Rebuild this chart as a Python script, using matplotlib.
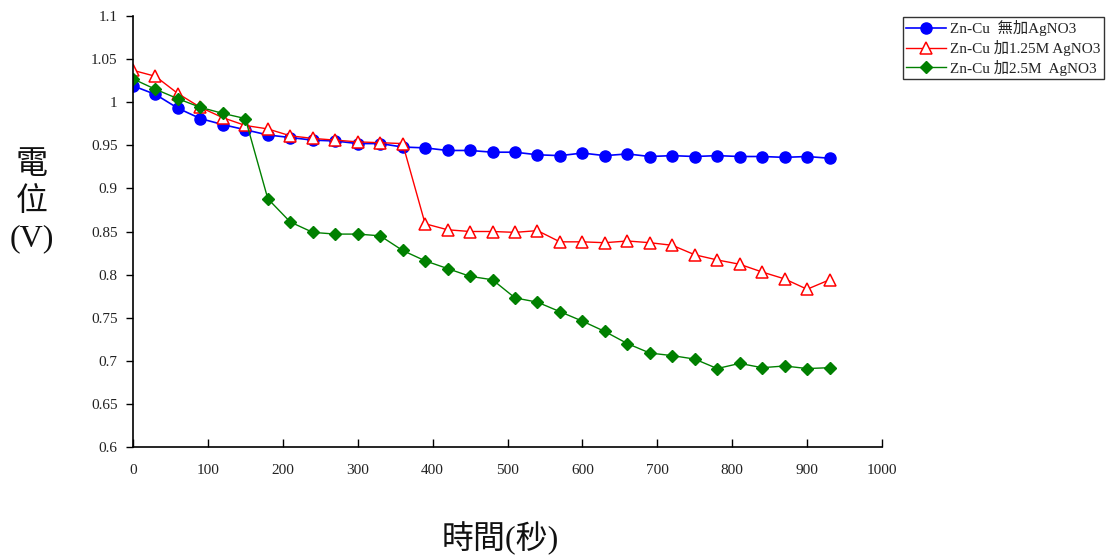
import matplotlib
matplotlib.use("Agg")
import matplotlib.pyplot as plt
import numpy as np

plt.rcParams['font.family'] = ['Liberation Serif', 'Noto Sans CJK TC', 'DejaVu Sans']

# Elapsed time (s)
time_s = list(range(0, 931, 30))

# Potential (V) for each Zn-Cu cell
zn_cu_plain = [1.019, 1.009, 0.993, 0.981, 0.974, 0.968, 0.962, 0.959, 0.956, 0.955,
               0.952, 0.952, 0.948, 0.947, 0.944, 0.944, 0.942, 0.942, 0.939, 0.938,
               0.941, 0.938, 0.940, 0.937, 0.938, 0.937, 0.938, 0.937, 0.937, 0.936,
               0.937, 0.935]
zn_cu_125m = [1.037, 1.030, 1.010, 0.994, 0.982, 0.973, 0.969, 0.961, 0.958, 0.956,
              0.954, 0.953, 0.952, 0.859, 0.852, 0.850, 0.850, 0.849, 0.851, 0.838,
              0.838, 0.837, 0.839, 0.837, 0.834, 0.823, 0.817, 0.812, 0.803, 0.795,
              0.783, 0.794]
zn_cu_25m = [1.027, 1.015, 1.004, 0.994, 0.987, 0.981, 0.888, 0.861, 0.849, 0.847,
             0.847, 0.845, 0.828, 0.816, 0.807, 0.798, 0.794, 0.773, 0.768, 0.757,
             0.746, 0.734, 0.720, 0.709, 0.706, 0.702, 0.691, 0.697, 0.692, 0.694,
             0.691, 0.692]

series_labels = ['Zn-Cu  無加AgNO3', 'Zn-Cu 加1.25M AgNO3', 'Zn-Cu 加2.5M  AgNO3']
x_ticks = list(range(0, 1001, 100))
y_ticks = [0.6, 0.65, 0.7, 0.75, 0.8, 0.85, 0.9, 0.95, 1.0, 1.05, 1.1]

fig = plt.figure(figsize=(11.15, 5.56), dpi=100)
ax = fig.add_axes([133 / 1115, 1 - 447 / 556, (882 - 133) / 1115, (447 - 16) / 556])

ax.plot(time_s, zn_cu_plain, color='#0000FF', lw=1.2, marker='o', ms=8,
        mfc='#0000FF', mec='#0000FF', label=series_labels[0])
ax.plot(time_s, zn_cu_125m, color='#FF0000', lw=1.0, marker='^', ms=9,
        mfc='white', mec='#FF0000', mew=1.1, label=series_labels[1])
ax.plot(time_s, zn_cu_25m, color='#008000', lw=1.0, marker='D', ms=6.5,
        mfc='#008000', mec='#008000', label=series_labels[2])

ax.set_xlim(0, 1000)
ax.set_ylim(0.6, 1.1)
ax.set_xticks(x_ticks)
ax.set_yticks(y_ticks)
ax.set_yticklabels([f"{v:g}" for v in y_ticks])

for s in ['top', 'right']:
    ax.spines[s].set_visible(False)
for s in ['left', 'bottom']:
    ax.spines[s].set_linewidth(1.2)
    ax.spines[s].set_color('black')

ax.tick_params(axis='x', direction='in', length=6, width=1, pad=12,
               labelsize=11, colors='black', labelcolor='#222222')
ax.tick_params(axis='y', direction='out', length=5, width=1, pad=6,
               labelsize=11, colors='black', labelcolor='#222222')
for lbl in ax.get_xticklabels() + ax.get_yticklabels():
    lbl.set_family(['Liberation Serif'])

leg = fig.legend(loc='upper left', bbox_to_anchor=(903 / 1115, 1 - 17 / 556),
                 borderaxespad=0, frameon=True, fancybox=False, fontsize=11,
                 handlelength=2.6, borderpad=0.2, labelspacing=0.25, handletextpad=0.3)
leg.get_frame().set_edgecolor('black')
leg.get_frame().set_linewidth(1.0)
for t in leg.get_texts():
    t.set_color('#222222')

fig.text(32 / 1115, 1 - 202 / 556, '電\n位\n(V)', ha='center', va='center',
         fontsize=23, linespacing=1.3, color='#111111')
fig.text(500 / 1115, 1 - 538 / 556, '時間(秒)', ha='center', va='center',
         fontsize=23, color='#111111')

fig.savefig('out.png', dpi=100)
